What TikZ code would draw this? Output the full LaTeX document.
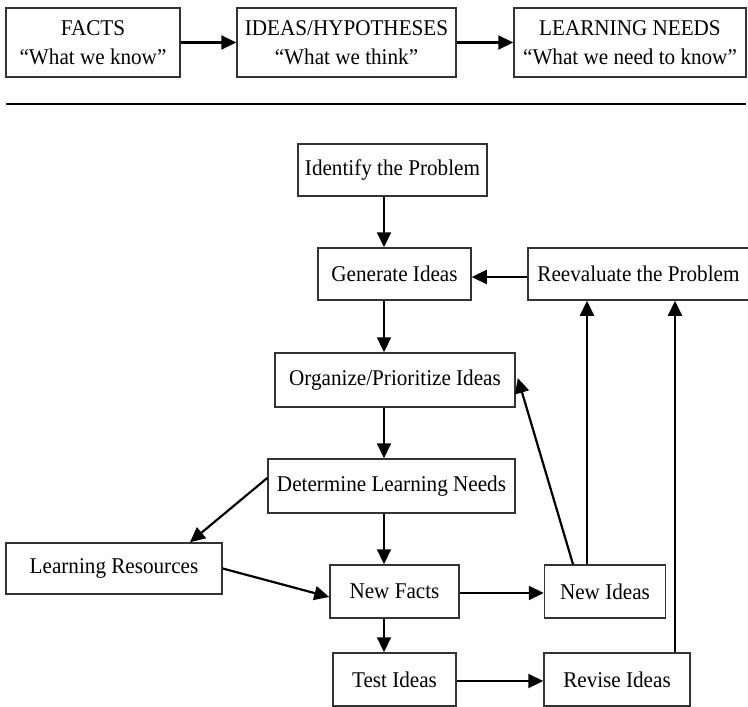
\documentclass[tikz,border=0pt]{standalone}
\usepackage{fontspec}
\setmainfont{Liberation Serif}[FakeStretch=0.94]
\usetikzlibrary{arrows.meta}
\begin{document}
\begin{tikzpicture}[x=1pt,y=-1pt,
  box/.style={draw=black!80, line width=1.5pt, rectangle, inner sep=0pt,
    font=\fontsize{22.5}{29}\selectfont, align=center},
  arr/.style={line width=2.2pt, -{Triangle[length=15pt,width=14pt]}}]
\useasboundingbox (0,0) rectangle (748,707);

% upper strip: the three columns of the chart
\node[box, minimum width=174pt, minimum height=69pt] (facts) at (93,42.5)
  {FACTS\\“What we know”};
\node[box, minimum width=219pt, minimum height=69pt] (ideas) at (346.5,42.5)
  {IDEAS/HYPOTHESES\\“What we think”};
\node[box, minimum width=232pt, minimum height=69pt] (needs) at (630,42.5)
  {LEARNING NEEDS\\“What we need to know”};
\draw[arr] (facts.east) -- (ideas.west);
\draw[arr] (ideas.east) -- (needs.west);

% separating rule
\coordinate (ruleL) at (6,104);
\coordinate (ruleR) at (746,104);
\draw[line width=2pt] (ruleL) -- (ruleR);

% process flow
\node[box, minimum width=189pt, minimum height=52pt] (identify) at (392.5,170) {Identify the Problem};
\node[box, minimum width=153pt, minimum height=52pt] (generate) at (394.5,274) {Generate Ideas};
\node[box, minimum width=221pt, minimum height=52pt] (reeval) at (638.5,274) {Reevaluate the Problem};
\node[box, minimum width=240pt, minimum height=54pt] (organize) at (395,380) {Organize/Prioritize Ideas};
\node[box, minimum width=247pt, minimum height=54pt] (determine) at (391.5,486) {Determine Learning Needs};
\node[box, minimum width=216pt, minimum height=51pt] (resources) at (114,568.5) {Learning Resources};
\node[box, minimum width=129pt, minimum height=53pt] (newfacts) at (394.5,591.5) {New Facts};
\node[box, minimum width=121pt, minimum height=53pt] (newideas) at (605,591.5) {New Ideas};
\node[box, minimum width=123pt, minimum height=53pt] (test) at (394.5,679.5) {Test Ideas};
\node[box, minimum width=146pt, minimum height=53pt] (revise) at (617,679.5) {Revise Ideas};

% main column of arrows
\coordinate (col) at (384,0);
\draw[arr] (identify.south -| col) -- (generate.north -| col);
\draw[arr] (generate.south -| col) -- (organize.north -| col);
\draw[arr] (organize.south -| col) -- (determine.north -| col);
\draw[arr] (determine.south -| col) -- (newfacts.north -| col);
\draw[arr] (newfacts.south -| col) -- (test.north -| col);

% side branches
\draw[arr] ([yshift=-3pt]reeval.west) -- ([yshift=-3pt]generate.east);
\draw[arr] ([yshift=8pt]determine.west) -- ([xshift=76pt]resources.north);
\draw[arr] (resources.east) -- ([yshift=-5.5pt]newfacts.west);
\draw[arr] ([yshift=-1.5pt]newfacts.east) -- ([yshift=-1.5pt]newideas.west);
\draw[arr] ([yshift=-1.5pt]test.east) -- ([yshift=-1.5pt]revise.west);

% feedback paths
\draw[arr] ([xshift=-32pt]newideas.north) -- ([xshift=2pt,yshift=2pt]organize.east);
\draw[arr] ([xshift=-18pt]newideas.north) -- ([xshift=-18pt]newideas.north |- reeval.south);
\draw[arr] ([xshift=58pt]revise.north) -- ([xshift=58pt]revise.north |- reeval.south);
\end{tikzpicture}
\end{document}
